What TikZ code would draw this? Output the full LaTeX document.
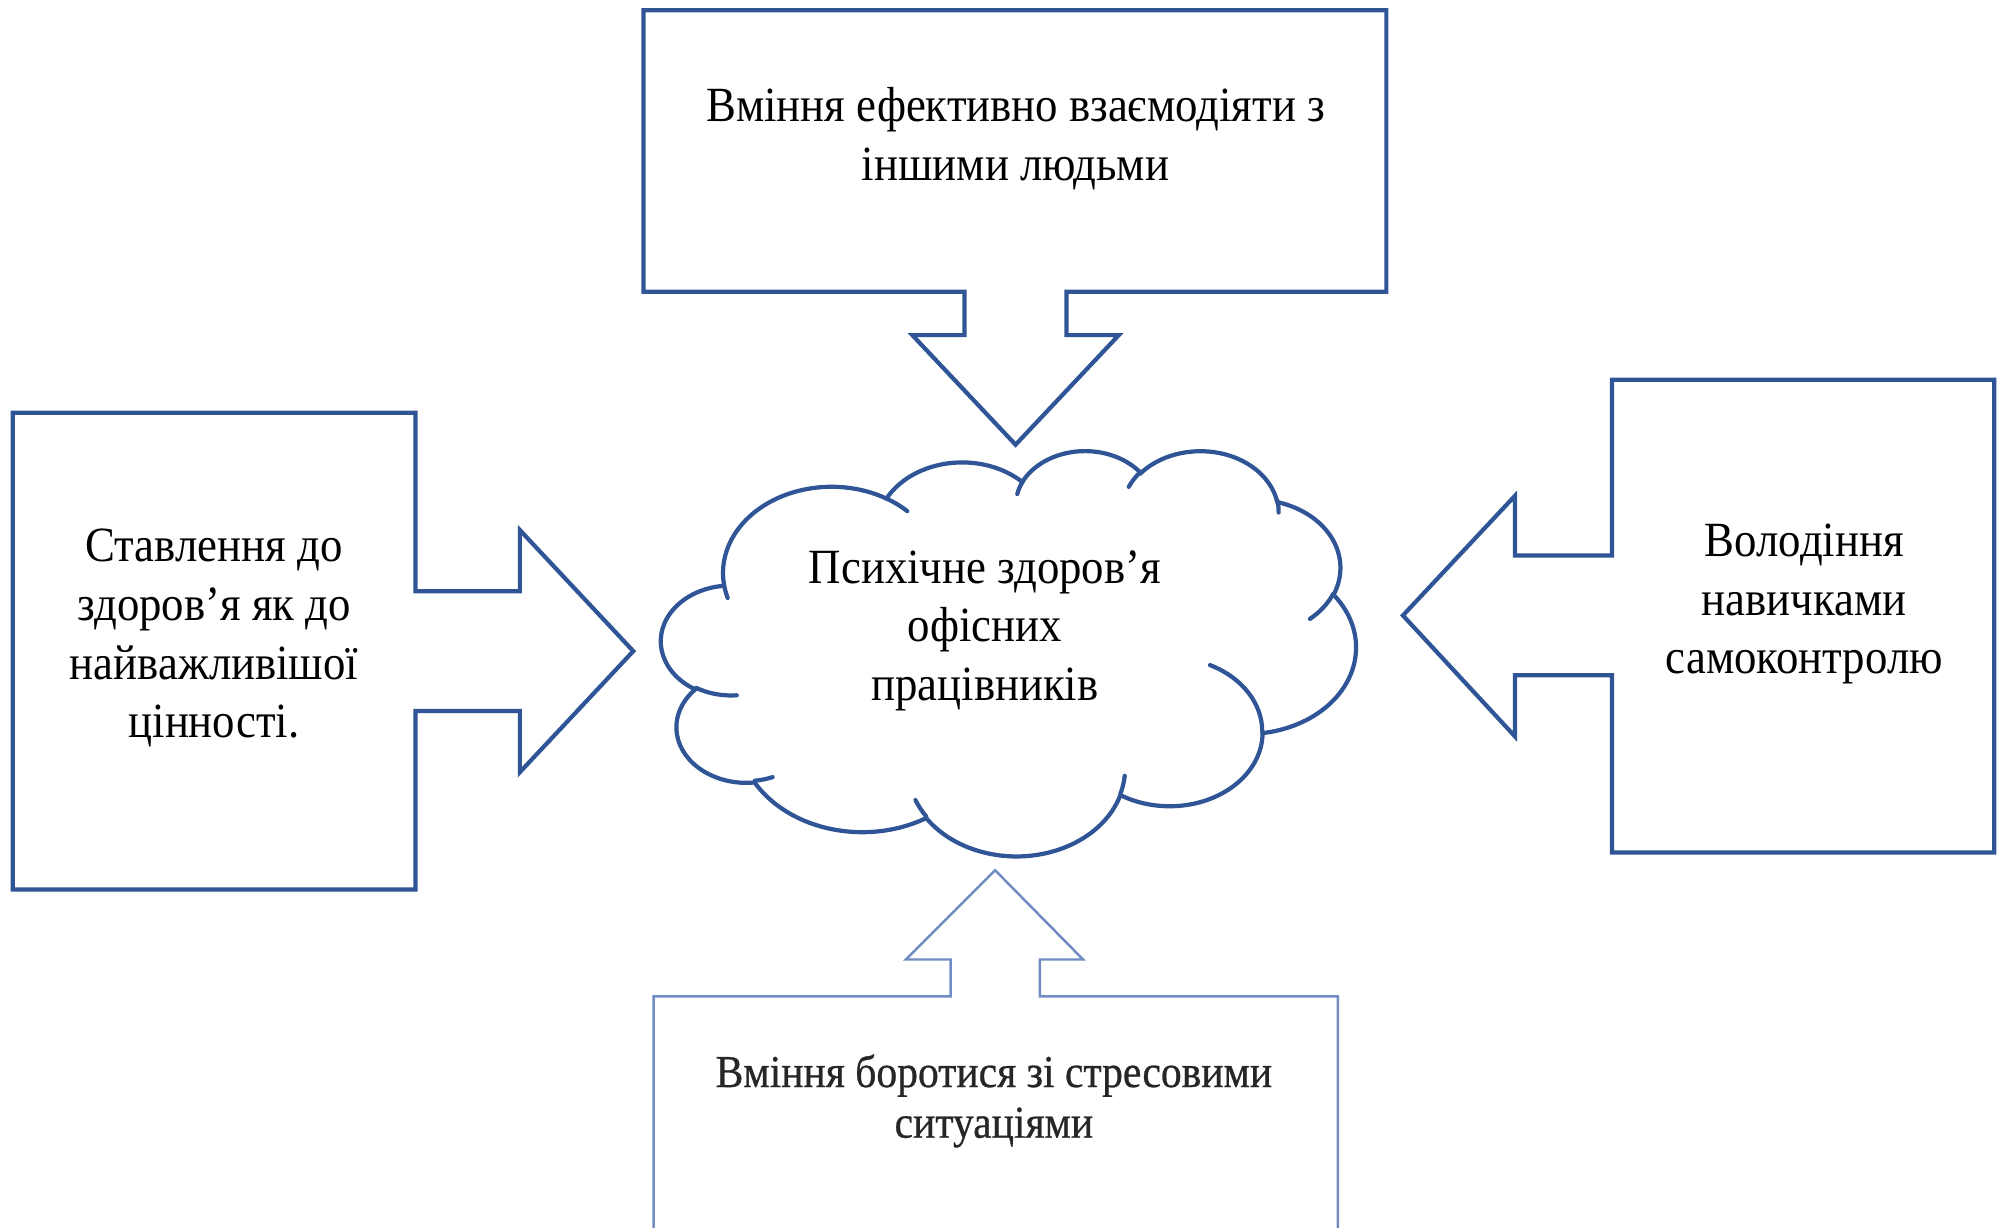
\documentclass[tikz,border=0pt]{standalone}
\usepackage{fontspec}
\setmainfont[FakeStretch=0.91]{Liberation Serif}
\newfontfamily\palefont[FakeStretch=0.91,FakeBold=0.6]{Liberation Serif}
\usepackage{tikz}
\definecolor{callblue}{RGB}{47,85,151}
\definecolor{paleblue}{RGB}{112,140,194}

\begin{document}
\begin{tikzpicture}[x=0.01274cm,y=-0.01274cm,
  callout/.style={draw=callblue,line width=1.2pt},
  pale/.style={draw=paleblue,line width=0.7pt},
  cloudline/.style={draw=callblue,line width=1.2pt,line cap=round},
  txt/.style={align=center,font=\fontsize{14}{16.7}\selectfont},
  smalltxt/.style={align=center,text=black!85,font=\palefont\fontsize{13}{14.4}\selectfont}]
\clip (0,0) rectangle (1568,963);
\coordinate (ttip) at (797,349);
\coordinate (ltip) at (497,511);
\coordinate (rtip) at (1101,483);
\coordinate (btip) at (781,683);

% block arrows
\draw[callout] (505,8) -- (1088,8) -- (1088,229) -- (837,229) -- (837,263) -- (878,263) -- (ttip) -- (716,263) -- (757,263) -- (757,229) -- (505,229) -- cycle;
\draw[callout] (10,324) -- (326,324) -- (326,464) -- (408,464) -- (408,416) -- (ltip) -- (408,606) -- (408,558) -- (326,558) -- (326,698) -- (10,698) -- cycle;
\draw[callout] (1565,298) -- (1265,298) -- (1265,436) -- (1189,436) -- (1189,389) -- (rtip) -- (1189,578) -- (1189,530) -- (1265,530) -- (1265,669) -- (1565,669) -- cycle;
\draw[pale] (513,990) -- (513,782) -- (746,782) -- (746,753) -- (711,753) -- (btip) -- (850,753) -- (816,753) -- (816,782) -- (1050,782) -- (1050,990);

% cloud
\begin{scope}[shift={(519,353)},x=0.16073cm,y=-0.09378cm]
\draw[cloudline] (3.900,14.370)
  \foreach \rx/\ry/\sa/\da in {6.753/9.190/-190.4875/123.7805, 5.333/7.267/-144.1024/89.9452,
    4.365/5.945/-145.8079/99.7230, 4.857/6.595/-130.9861/117.2417, 5.333/7.273/-78.7089/109.0269,
    6.775/9.220/-46.2673/130.2690, 5.785/7.867/0.6250/114.0333, 6.752/9.215/22.4516/115.1726,
    7.720/10.543/66.2426/75.7110, 4.360/5.918/-274.9421/146.7356, 4.345/5.945/-246.8285/152.5189}
  {arc[x radius=\rx,y radius=\ry,start angle={atan2(\rx*sin(\sa),\ry*cos(\sa))},
    delta angle={mod(atan2(\rx*sin(\sa+\da),\ry*cos(\sa+\da))-atan2(\rx*sin(\sa),\ry*cos(\sa))+720,360)}]};
\foreach \px/\py/\rx/\ry/\sa/\da in {4.693/26.177/4.345/5.945/86.742/26.4295,
    6.928/34.899/4.360/5.918/73.6105/11.4475, 16.478/39.090/6.752/9.215/137.6242/14.0811,
    28.827/34.751/6.752/9.215/6.4533/15.9984, 34.129/22.954/5.785/7.867/-70.2924/70.9174,
    41.798/15.354/5.333/7.273/30.3180/27.7515, 38.324/5.426/4.857/6.595/-13.7443/14.8589,
    29.078/3.952/4.857/6.595/-149.1815/18.1954, 22.141/4.720/4.365/5.945/-163.4943/17.6864,
    14.000/5.192/6.753/9.190/-66.7070/12.3194, 4.127/15.789/6.753/9.190/157.6544/11.8582}
  \draw[cloudline] (\px,\py) arc[x radius=\rx,y radius=\ry,start angle={atan2(\rx*sin(\sa),\ry*cos(\sa))},
    delta angle={mod(atan2(\rx*sin(\sa+\da),\ry*cos(\sa+\da))-atan2(\rx*sin(\sa),\ry*cos(\sa))+720,360)}];
\end{scope}

% labels
\node[txt] (top) at (797,109) {Вміння ефективно взаємодіяти з\\іншими людьми};
\node[txt] (left) at (168,501) {Ставлення до\\здоров’я як до\\найважливішої\\цінності.};
\node[txt] (right) at (1416,474) {Володіння\\навичками\\самоконтролю};
\node[txt] (health) at (773,495) {Психічне здоров’я\\офісних\\працівників};
\node[smalltxt] (bottom) at (780,864) {Вміння боротися зі стресовими\\ситуаціями};
\end{tikzpicture}
\end{document}
